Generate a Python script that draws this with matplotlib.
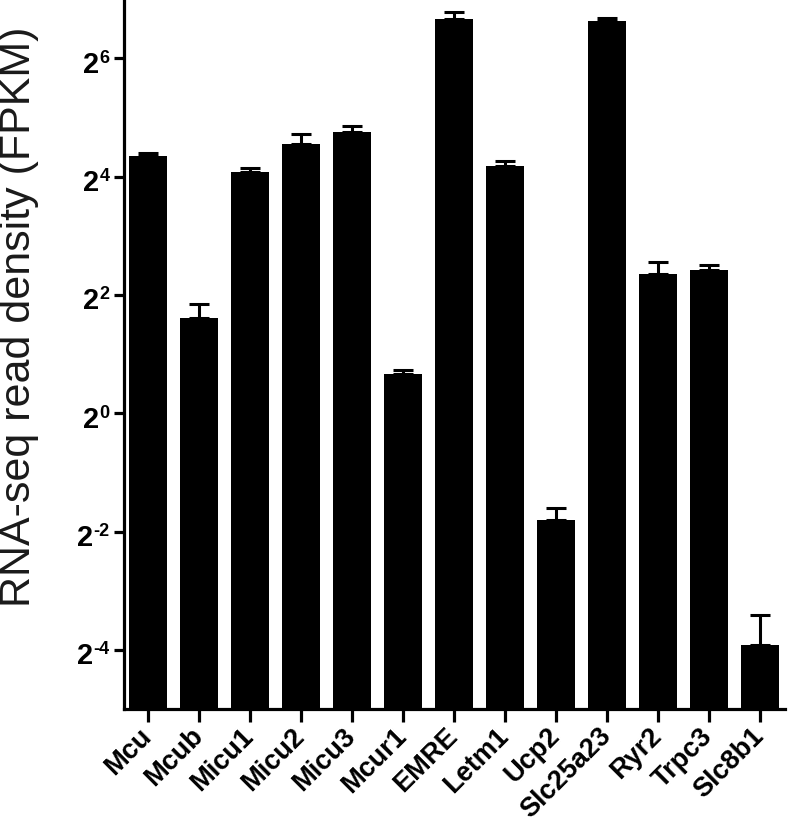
import matplotlib.pyplot as plt
import numpy as np

plt.rcParams['font.family'] = 'Liberation Sans'

genes = ['Mcu', 'Mcub', 'Micu1', 'Micu2', 'Micu3', 'Mcur1', 'EMRE', 'Letm1',
         'Ucp2', 'Slc25a23', 'Ryr2', 'Trpc3', 'Slc8b1']
# mean FPKM and SEM
fpkm = [20.4, 3.05, 16.8, 23.3, 27.1, 1.58, 101.1, 18.1, 0.285, 99.0, 5.13, 5.35, 0.066]
sem = [0.7, 0.56, 0.8, 3.1, 1.7, 0.08, 8.8, 1.1, 0.045, 3.5, 0.77, 0.31, 0.028]
ytick_exp = [-4, -2, 0, 2, 4, 6]

fig = plt.figure(figsize=(7.89, 8.28), dpi=100)
ax = fig.add_axes([0.157, 0.1425, 0.838, 0.8575])

ax.set_yscale('log', base=2, nonpositive='clip')
x = np.arange(len(genes))
ax.bar(x, fpkm, width=0.745, color='black',
       yerr=[np.zeros(len(sem)), sem], capsize=7, ecolor='black',
       error_kw={'elinewidth': 2.2, 'capthick': 2.2})

ax.set_ylim(2**-5, 2**7)
ax.set_xlim(-0.47, 12.49)

# y tick labels drawn as "2" + superscript exponent
ax.set_yticks([2.0**e for e in ytick_exp])
ax.set_yticklabels([])
ax.minorticks_off()
renderer = fig.canvas.get_renderer()
trans = ax.get_yaxis_transform()
for e in ytick_exp:
    sup = ax.annotate(str(e), xy=(0, 2.0**e), xycoords=trans,
                      xytext=(-10.5, -2.5), textcoords='offset points',
                      ha='right', va='baseline', fontsize=13, fontweight='bold')
    w = sup.get_window_extent(renderer).width * 72 / fig.dpi
    ax.annotate('2', xy=(0, 2.0**e), xycoords=trans,
                xytext=(-10.5 - w - 0.3, -9.8), textcoords='offset points',
                ha='right', va='baseline', fontsize=21, fontweight='bold')

ax.set_xticks(x)
ax.set_xticklabels(genes, rotation=45, ha='right', va='center',
                   rotation_mode='anchor', fontsize=19.5, fontweight='bold')

ax.set_ylabel('RNA-seq read density (FPKM)', fontsize=31, color='#1a1a1a')
ax.yaxis.set_label_coords(-0.128, 0.554)

for s in ['top', 'right']:
    ax.spines[s].set_visible(False)
for s in ['left', 'bottom']:
    ax.spines[s].set_linewidth(2.3)
ax.tick_params(axis='y', length=7, width=2.3)
ax.tick_params(axis='x', length=9, width=2.3, pad=7)

fig.savefig('out.png', dpi=100)
